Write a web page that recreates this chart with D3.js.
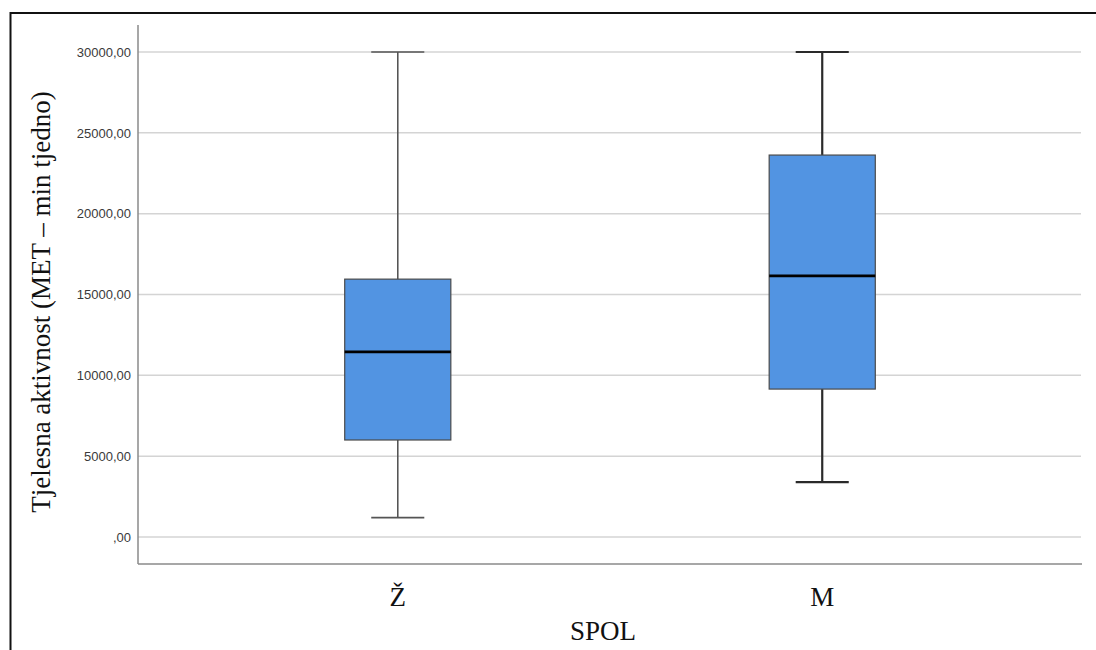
<!DOCTYPE html>
<html><head><meta charset="utf-8">
<script src="https://cdn.jsdelivr.net/npm/d3@7"></script>
<style>body{margin:0;background:#fff}</style>
</head><body>
<svg id="c" width="1096" height="650"></svg>
<script>
const categories = ["Ž", "M"];
const q1 = [6000, 9150];
const medians = [11450, 16150];
const q3 = [15950, 23625];
const whiskerLow = [1200, 3400];
const whiskerHigh = [30000, 30000];
const yTicks = [0, 5000, 10000, 15000, 20000, 25000, 30000];
const yTickLabels = [",00", "5000,00", "10000,00", "15000,00", "20000,00", "25000,00", "30000,00"];

(function () {
const svg = d3.select("#c");
// outer frame
svg.append("rect").attr("x", 10.5).attr("y", 13).attr("width", 1100).attr("height", 700)
  .attr("fill", "none").attr("stroke", "#111").attr("stroke-width", 2);

const pLeft = 138, pRight = 1082, pTop = 25, pBottom = 564;
const y = d3.scaleLinear().domain([0, 30000]).range([537, 52]);
const x = d3.scaleBand().domain(categories).range([pLeft, pRight]).paddingInner(0.75).paddingOuter(0.487);

// gridlines
svg.append("g").selectAll("line").data(yTicks).join("line")
  .attr("x1", pLeft).attr("x2", 1081).attr("y1", d => y(d)).attr("y2", d => y(d))
  .attr("stroke", "#d4d4d4").attr("stroke-width", 1.5);

// y axis
const yAxis = d3.axisLeft(y).tickValues(yTicks).tickSize(0).tickPadding(7)
  .tickFormat((d, i) => yTickLabels[i]);
const gy = svg.append("g").attr("transform", `translate(${pLeft},0)`).call(yAxis);
gy.select(".domain").remove();
gy.selectAll("text").attr("font-family", "Liberation Sans, Arial, sans-serif").attr("font-size", 13).attr("fill", "#3a3a3a");
svg.append("line").attr("x1", pLeft).attr("x2", pLeft).attr("y1", pTop).attr("y2", pBottom)
  .attr("stroke", "#8a8a8a").attr("stroke-width", 1.5);

// x axis
const xAxis = d3.axisBottom(x).tickSize(0).tickPadding(23);
const gx = svg.append("g").attr("transform", `translate(0,${pBottom})`).call(xAxis);
gx.select(".domain").remove();
gx.selectAll("text").attr("font-family", "Liberation Serif, Times New Roman, serif").attr("font-size", 27).attr("fill", "#111");
svg.append("line").attr("x1", pLeft).attr("x2", 1082).attr("y1", pBottom).attr("y2", pBottom)
  .attr("stroke", "#8a8a8a").attr("stroke-width", 1.5);

// axis titles
svg.append("text").attr("x", 603).attr("y", 640).attr("text-anchor", "middle")
  .attr("font-family", "Liberation Serif, Times New Roman, serif").attr("font-size", 27).attr("fill", "#111")
  .text("SPOL");
svg.append("text").attr("transform", "translate(50,302) rotate(-90)").attr("text-anchor", "middle")
  .attr("font-family", "Liberation Serif, Times New Roman, serif").attr("font-size", 27).attr("fill", "#111")
  .text("Tjelesna aktivnost (MET – min tjedno)");

// boxes
const data = categories.map((c, i) => ({c, i, q1: q1[i], med: medians[i], q3: q3[i], lo: whiskerLow[i], hi: whiskerHigh[i]}));
const whiskerColors = ["#555", "#2a2a2a"];
const whiskerWidths = [1.6, 2.2];
const g = svg.append("g").selectAll("g").data(data).join("g");
const bw = x.bandwidth();
g.each(function(d) {
  const s = d3.select(this);
  const cx = x(d.c) + bw / 2;
  const col = whiskerColors[d.i], w = whiskerWidths[d.i];
  s.append("line").attr("x1", cx).attr("x2", cx).attr("y1", y(d.hi)).attr("y2", y(d.q3)).attr("stroke", col).attr("stroke-width", w);
  s.append("line").attr("x1", cx).attr("x2", cx).attr("y1", y(d.q1)).attr("y2", y(d.lo)).attr("stroke", col).attr("stroke-width", w);
  s.append("line").attr("x1", cx - bw / 4).attr("x2", cx + bw / 4).attr("y1", y(d.hi)).attr("y2", y(d.hi)).attr("stroke", col).attr("stroke-width", w);
  s.append("line").attr("x1", cx - bw / 4).attr("x2", cx + bw / 4).attr("y1", y(d.lo)).attr("y2", y(d.lo)).attr("stroke", col).attr("stroke-width", w);
  s.append("rect").attr("x", x(d.c)).attr("width", bw).attr("y", y(d.q3)).attr("height", y(d.q1) - y(d.q3))
    .attr("fill", "#5294e2").attr("stroke", "#4a4a4a").attr("stroke-width", 1.2);
  s.append("line").attr("x1", x(d.c)).attr("x2", x(d.c) + bw).attr("y1", y(d.med)).attr("y2", y(d.med))
    .attr("stroke", "#000").attr("stroke-width", 2.6);
});
})();
</script>
</body></html>
